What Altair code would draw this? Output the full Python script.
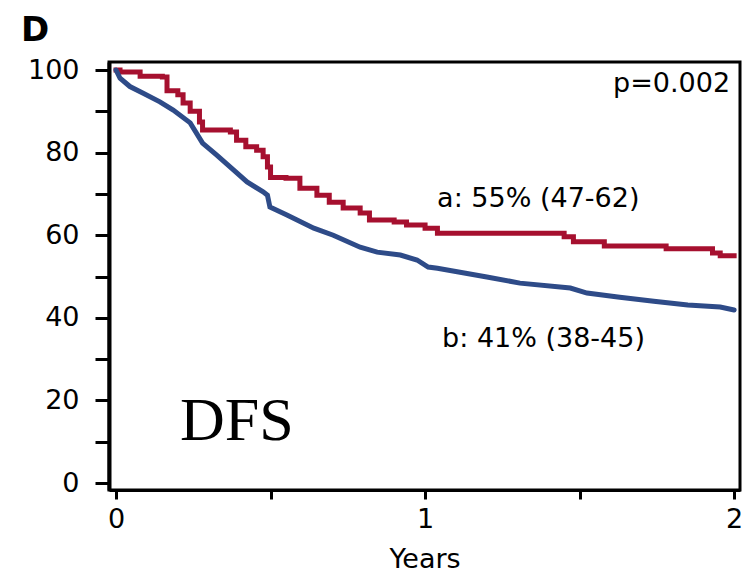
import altair as alt
import pandas as pd

# Kaplan-Meier DFS curves
a_years = [0.0, 0.013, 0.078, 0.15, 0.165, 0.2, 0.217, 0.24, 0.27, 0.28, 0.37, 0.39, 0.42, 0.455,
           0.476, 0.49, 0.5, 0.55, 0.595, 0.65, 0.69, 0.735, 0.79, 0.82, 0.9, 0.94, 1.0, 1.04,
           1.43, 1.45, 1.48, 1.58, 1.78, 1.93, 1.955, 2.0]
a_surv = [100, 99.5, 98.5, 98.3, 95, 94, 92, 90, 87.4, 85.5, 85, 83, 81.4, 80.6,
          79, 76.5, 74, 73.8, 71.4, 69.7, 68, 66.6, 65.4, 63.7, 63.2, 62.5, 61.7, 60.5,
          60.5, 59.6, 58.4, 57.4, 56.7, 55.7, 55, 55]

b_years = [0.0, 0.013, 0.045, 0.088, 0.142, 0.185, 0.24, 0.28, 0.326, 0.38, 0.424, 0.476, 0.49,
           0.498, 0.553, 0.64, 0.703, 0.79, 0.845, 0.92, 0.974, 1.01, 1.04, 1.2, 1.307, 1.47,
           1.524, 1.63, 1.74, 1.85, 1.955, 2.0]
b_surv = [100, 98, 96, 94.4, 92.3, 90.3, 87.2, 82.3, 79.4, 75.8, 72.9, 70.5, 69.7,
          66.8, 64.9, 61.7, 60, 57.1, 55.9, 55.2, 54, 52.3, 52, 49.9, 48.4, 47.2,
          46, 45, 44, 43.1, 42.6, 41.9]

groups = ["a", "b"]
colors = ["#A6102F", "#2E4B88"]

x_ticks = [0, 0.5, 1, 1.5, 2]
y_ticks = [0, 10, 20, 30, 40, 50, 60, 70, 80, 90, 100]

labels_text = ["a: 55% (47-62)", "b: 41% (38-45)", "p=0.002"]
labels_x = [1.039, 1.055, 1.987]
labels_y = [66.8, 32.9, 94.7]
labels_align = ["left", "left", "right"]

FS = 27

df_a = pd.DataFrame({"Years": a_years, "DFS": a_surv, "group": "a"})
df_b = pd.DataFrame({"Years": b_years, "DFS": b_surv, "group": "b"})

xs = alt.Scale(domain=[-0.0227, 2.019], nice=False, zero=False)
ys = alt.Scale(domain=[-1.69, 101.94], nice=False, zero=False)
cs = alt.Scale(domain=groups, range=colors)

x_axis = alt.Axis(values=x_ticks, title="Years", grid=False,
                  labelExpr="datum.value == 0 || datum.value == 1 || datum.value == 2 ? format(datum.value, 'd') : ''",
                  tickSize=9, tickWidth=3, tickColor="black", domainWidth=3, domainColor="black",
                  labelFontSize=FS, labelPadding=7, labelFont="DejaVu Sans", labelColor="black",
                  titleFontSize=FS, titleFont="DejaVu Sans", titleFontWeight="normal",
                  titleColor="black", titlePadding=14)
y_axis = alt.Axis(values=y_ticks, title=None, grid=False,
                  labelExpr="datum.value % 20 == 0 ? format(datum.value, 'd') : ''",
                  tickSize=14, tickWidth=3, tickColor="black", domainWidth=4, domainColor="black",
                  labelFontSize=FS, labelPadding=16, labelFont="DejaVu Sans", labelColor="black")

line_a = alt.Chart(df_a).mark_line(interpolate="step-after", strokeWidth=5, strokeCap="square").encode(
    x=alt.X("Years:Q", scale=xs, axis=x_axis),
    y=alt.Y("DFS:Q", scale=ys, axis=y_axis),
    color=alt.Color("group:N", scale=cs, legend=None),
)
line_b = alt.Chart(df_b).mark_line(interpolate="linear", strokeWidth=5, strokeCap="round").encode(
    x=alt.X("Years:Q", scale=xs),
    y=alt.Y("DFS:Q", scale=ys),
    color=alt.Color("group:N", scale=cs, legend=None),
)

lab_df = pd.DataFrame({"x": labels_x, "y": labels_y, "t": labels_text, "al": labels_align})
lab_left = alt.Chart(lab_df[lab_df.al == "left"]).mark_text(
    align="left", baseline="alphabetic", fontSize=FS, font="DejaVu Sans", color="black"
).encode(x=alt.X("x:Q", scale=xs), y=alt.Y("y:Q", scale=ys), text="t:N")
lab_right = alt.Chart(lab_df[lab_df.al == "right"]).mark_text(
    align="right", baseline="alphabetic", fontSize=FS, font="DejaVu Sans", color="black"
).encode(x=alt.X("x:Q", scale=xs), y=alt.Y("y:Q", scale=ys), text="t:N")

dfs_df = pd.DataFrame({"x": [0.207], "y": [10.4], "t": ["DFS"]})
dfs_text = alt.Chart(dfs_df).mark_text(
    align="left", baseline="alphabetic", fontSize=62, font="Liberation Serif", color="black"
).encode(x=alt.X("x:Q", scale=xs), y=alt.Y("y:Q", scale=ys), text="t:N")

panel_df = pd.DataFrame({"t": ["D"]})
panel_text = alt.Chart(panel_df).mark_text(
    align="left", baseline="alphabetic", fontSize=34, fontWeight="bold", font="DejaVu Sans", color="black"
).encode(x=alt.value(-88), y=alt.value(-21), text="t:N")

chart = alt.layer(line_a, line_b, lab_left, lab_right, dfs_text, panel_text).properties(
    width=631, height=428,
    autosize=alt.AutoSizeParams(type="none"),
    padding={"left": 101, "top": 54, "right": 2, "bottom": 85},
).configure_view(stroke="black", strokeWidth=3)

chart.save("out.html", embed_options={"renderer": "svg", "actions": False})
